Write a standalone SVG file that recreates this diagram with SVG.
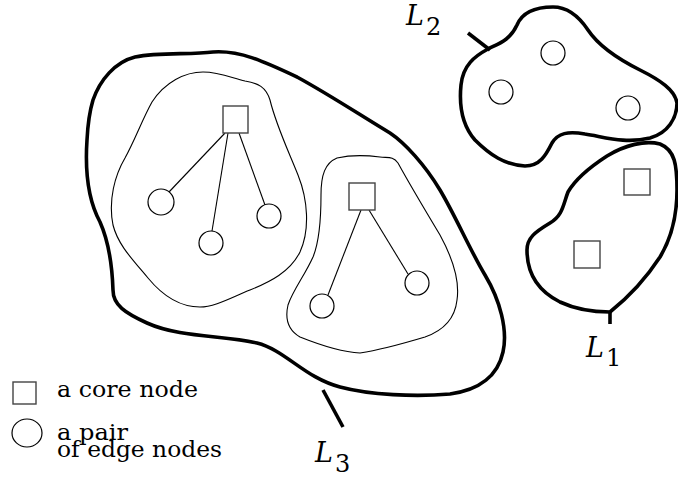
<svg xmlns="http://www.w3.org/2000/svg" width="678" height="479" viewBox="0 0 678 479">
<style>
.region{fill:none;stroke:#000;stroke-width:3.6;stroke-linejoin:round}
.cluster{fill:none;stroke:#000;stroke-width:1.1}
.core{fill:#fff;stroke:#444;stroke-width:1.4}
.edge{fill:#fff;stroke:#000;stroke-width:1.2}
.link{stroke:#000;stroke-width:1.1;fill:none}
.tick{stroke:#000;stroke-width:3.6;fill:none}
text{font-family:'DejaVu Serif','Liberation Serif',serif;fill:#000}
.lbl{font-style:italic;font-size:27px}
.sub{font-size:24px}
.leg{font-size:22px}
</style>
<rect width="678" height="479" fill="#fff"/>

<g id="region-L3">
<path class="region" d="M 93,100 C 100,80 115,62 135,57 C 160,52 190,55 213,52 C 240,50 265,62 297,77 C 330,95 360,115 390,133 C 405,143 425,165 440,190 C 455,215 470,250 485,275 C 500,300 508,330 503,352 C 498,375 480,390 450,394 C 415,397 370,395 340,387 C 305,378 285,350 257,343 C 225,335 180,338 147,323 C 125,313 113,305 113,290 C 112,260 108,240 100,222 C 88,200 85,170 87,140 C 88,120 90,110 93,100 Z"/>
<line class="tick" x1="323" y1="390" x2="343" y2="427"/>
<text class="lbl" x="315" y="462">L</text><text class="sub" x="335" y="472">3</text>
</g>

<g id="region-L2">
<path class="region" d="M 488,49 C 475,56 463,65 461,85 C 459,105 462,125 475,140 C 490,155 505,165 525,166 C 540,166 546,155 552,143 C 558,133 568,131 585,134 C 605,137 625,144 650,138 C 668,133 677,118 677,103 C 675,90 660,80 640,70 C 620,60 600,48 588,30 C 578,15 567,7 553,7 C 535,7 522,13 517,25 C 510,40 500,43 488,49 Z"/>
<line class="tick" x1="468" y1="33" x2="490" y2="50"/>
<text class="lbl" x="406" y="25">L</text><text class="sub" x="426" y="35">2</text>
</g>

<g id="region-L1">
<path class="region" d="M 610,312 C 625,300 645,280 660,257 C 672,237 677,215 677,190 C 677,165 675,150 660,144 C 645,140 625,145 607,156 C 590,167 575,180 568,192 C 563,205 563,215 550,223 C 535,232 527,238 527,250 C 527,275 540,292 560,302 C 575,309 595,312 610,312 Z"/>
<line class="tick" x1="610" y1="311" x2="610" y2="324"/>
<text class="lbl" x="586" y="357">L</text><text class="sub" x="606" y="366">1</text>
</g>

<g id="cluster-left">
<path class="cluster" d="M 203,72 C 220,72 232,78 245,81 C 258,83 266,87 270,100 C 276,125 288,150 298,175 C 308,200 310,230 300,252 C 290,272 270,282 250,290 C 232,297 215,307 200,307 C 180,307 162,295 148,278 C 133,260 118,245 113,225 C 108,200 115,175 125,158 C 135,140 142,120 152,102 C 165,82 185,72 203,72 Z"/>
</g>

<g id="cluster-right">
<path class="cluster" d="M 337,158 C 350,155 365,155 380,157 C 388,158 393,156 398,163 C 410,185 425,210 440,235 C 452,257 460,280 457,300 C 455,318 445,330 425,337 C 405,343 380,350 360,353 C 340,352 320,345 300,337 C 288,330 285,318 288,305 C 293,290 305,275 313,257 C 320,240 321,215 321,195 C 321,175 325,163 337,158 Z"/>
</g>

<g id="connectors">
<line class="link" x1="225" y1="133" x2="169" y2="192"/>
<line class="link" x1="228" y1="133" x2="212" y2="231"/>
<line class="link" x1="239" y1="133" x2="265" y2="205"/>
<line class="link" x1="361" y1="210" x2="328" y2="295"/>
<line class="link" x1="369" y1="210" x2="408" y2="274"/>
</g>

<g id="core-1"><rect class="core" x="223" y="106" width="25" height="27"/></g>
<g id="core-2"><rect class="core" x="349" y="183" width="26" height="27"/></g>
<g id="core-3"><rect class="core" x="624" y="169" width="26" height="26"/></g>
<g id="core-4"><rect class="core" x="574" y="241" width="26" height="27"/></g>

<g id="edge-1"><circle class="edge" cx="161" cy="202" r="13"/></g>
<g id="edge-2"><circle class="edge" cx="211" cy="243" r="12"/></g>
<g id="edge-3"><circle class="edge" cx="269" cy="216" r="12"/></g>
<g id="edge-4"><circle class="edge" cx="322" cy="306" r="12"/></g>
<g id="edge-5"><circle class="edge" cx="417" cy="283" r="12"/></g>
<g id="edge-6"><circle class="edge" cx="553" cy="53" r="12"/></g>
<g id="edge-7"><circle class="edge" cx="501" cy="92" r="12"/></g>
<g id="edge-8"><circle class="edge" cx="628" cy="108" r="12"/></g>

<g id="legend">
<rect class="core" x="13" y="382" width="23" height="22"/>
<text class="leg" x="57" y="397" textLength="141" lengthAdjust="spacingAndGlyphs">a core node</text>
<ellipse class="edge" cx="27" cy="433" rx="15" ry="14"/>
<text class="leg" x="57" y="440" textLength="71" lengthAdjust="spacingAndGlyphs">a pair</text>
<text class="leg" x="57" y="457" textLength="165" lengthAdjust="spacingAndGlyphs">of edge nodes</text>
</g>
</svg>
